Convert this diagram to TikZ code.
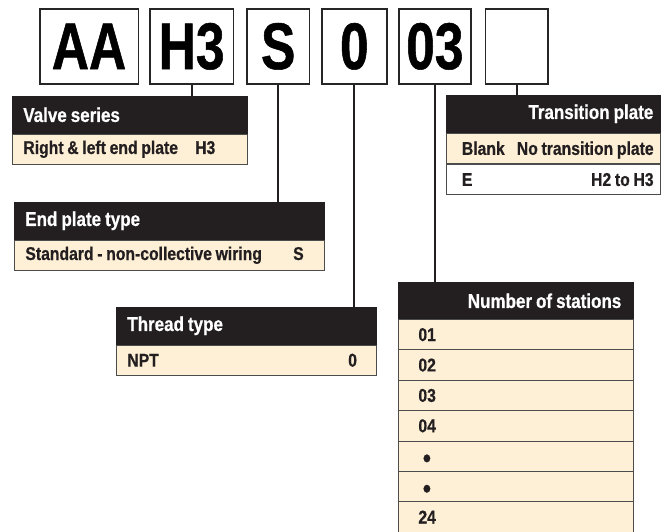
\documentclass[tikz,border=0pt]{standalone}
\usepackage{fontspec}
\newfontfamily\cond[FakeStretch=0.85,FakeBold=0.6,WordSpace={0.85,0,0}]{Liberation Sans}
\newfontfamily\bigcond[FakeStretch=0.78,FakeBold=0.8]{Liberation Sans}
\usetikzlibrary{positioning}
\definecolor{headblack}{HTML}{231F20}
\definecolor{rowcream}{HTML}{FEF0D6}
\newcommand{\bigdot}{\hspace*{4.5pt}\raisebox{-11pt}[0pt][0pt]{\fontsize{27}{20}\selectfont\textbullet}}
\tikzset{
  codebox/.style={draw=black!85, line width=1.7pt, minimum height=75pt, inner sep=0pt,
    anchor=north west, font=\bigcond\bfseries\fontsize{66}{66}\selectfont},
  headbox/.style={fill=headblack, draw=headblack, line width=0.6pt, text=white,
    minimum height=37pt, inner ysep=0pt, inner xsep=11pt, anchor=north west, align=flush left,
    font=\cond\bfseries\fontsize{20}{22}\selectfont},
  rowbox/.style={fill=rowcream, draw=black!70, line width=0.8pt, text=headblack,
    minimum height=30.5pt, inner ysep=0pt, inner xsep=11pt, anchor=north west, align=flush left,
    font=\cond\bfseries\fontsize{18.5}{20}\selectfont},
  codetxt/.style={inner sep=0pt, text=headblack, font=\cond\bfseries\fontsize{18.5}{20}\selectfont},
  link/.style={line width=2pt, headblack},
}
\begin{document}
\begin{tikzpicture}[x=1pt,y=-1pt]
  \useasboundingbox (0,0) rectangle (668,531);
  % ordering code
  \node[codebox, minimum width=98.7pt] (aa) at (38.8,8) {AA};
  \node[codebox, minimum width=83.6pt] (h3) at (149,8) {H3};
  \node[codebox, minimum width=62.7pt] (s) at (246,8) {S};
  \node[codebox, minimum width=65pt] (zero) at (321,8) {0};
  \node[codebox, minimum width=72pt] (nn) at (398,8) {03};
  \node[codebox, minimum width=62.4pt] (tp) at (484.6,8) {};

  % valve series
  \node[headbox, text width=213pt] (valve) at (12,96) {Valve series};
  \node[rowbox, text width=213pt] (vrow) at (valve.south west) {Right \& left end plate};
  \node[codetxt, anchor=base west] (vcode) at ([xshift=183pt]vrow.base west) {H3};

  % end plate type
  \node[headbox, text width=288pt] (endp) at (14,202) {End plate type};
  \node[rowbox, text width=288pt] (erow) at (endp.south west) {Standard - non-collective wiring};
  \node[codetxt, anchor=base west] (ecode) at ([xshift=279pt]erow.base west) {S};

  % thread type
  \node[headbox, text width=238pt] (thread) at (116,307) {Thread type};
  \node[rowbox, text width=238pt] (trow) at (thread.south west) {NPT};
  \node[codetxt, anchor=base west] (tcode) at ([xshift=232pt]trow.base west) {0};

  % transition plate
  \node[headbox, text width=200pt, inner xsep=7pt, align=flush right] (trans) at (446,95) {Transition plate};
  \node[rowbox, text width=183pt, inner xsep=15.5pt] (blank) at (trans.south west) {Blank};
  \node[codetxt, anchor=base east] (bcode) at ([xshift=-7pt]blank.base east) {No transition plate};
  \node[rowbox, fill=white, text width=183pt, inner xsep=15.5pt] (erow2) at (blank.south west) {E};
  \node[codetxt, anchor=base east] (e2code) at ([xshift=-7pt]erow2.base east) {H2 to H3};

  % number of stations
  \node[headbox, text width=211pt, inner xsep=12pt, align=flush right] (stations) at (398,282) {Number of stations};
  \foreach \n [count=\i from 0] in {01,02,03,04,\bigdot,\bigdot,24}{
    \node[rowbox, text width=195pt, inner xsep=20pt] (st\i) at (398,{319+30.4*\i}) {\n};
  }

  % connectors
  \draw[link] (h3.south) -- (h3.south |- valve.north);
  \draw[link] (s.south) -- (s.south |- endp.north);
  \draw[link] (zero.south) -- (zero.south |- thread.north);
  \draw[link] (nn.south) -- (nn.south |- stations.north);
  \draw[link] (tp.south) -- (tp.south |- trans.north);
\end{tikzpicture}
\end{document}
